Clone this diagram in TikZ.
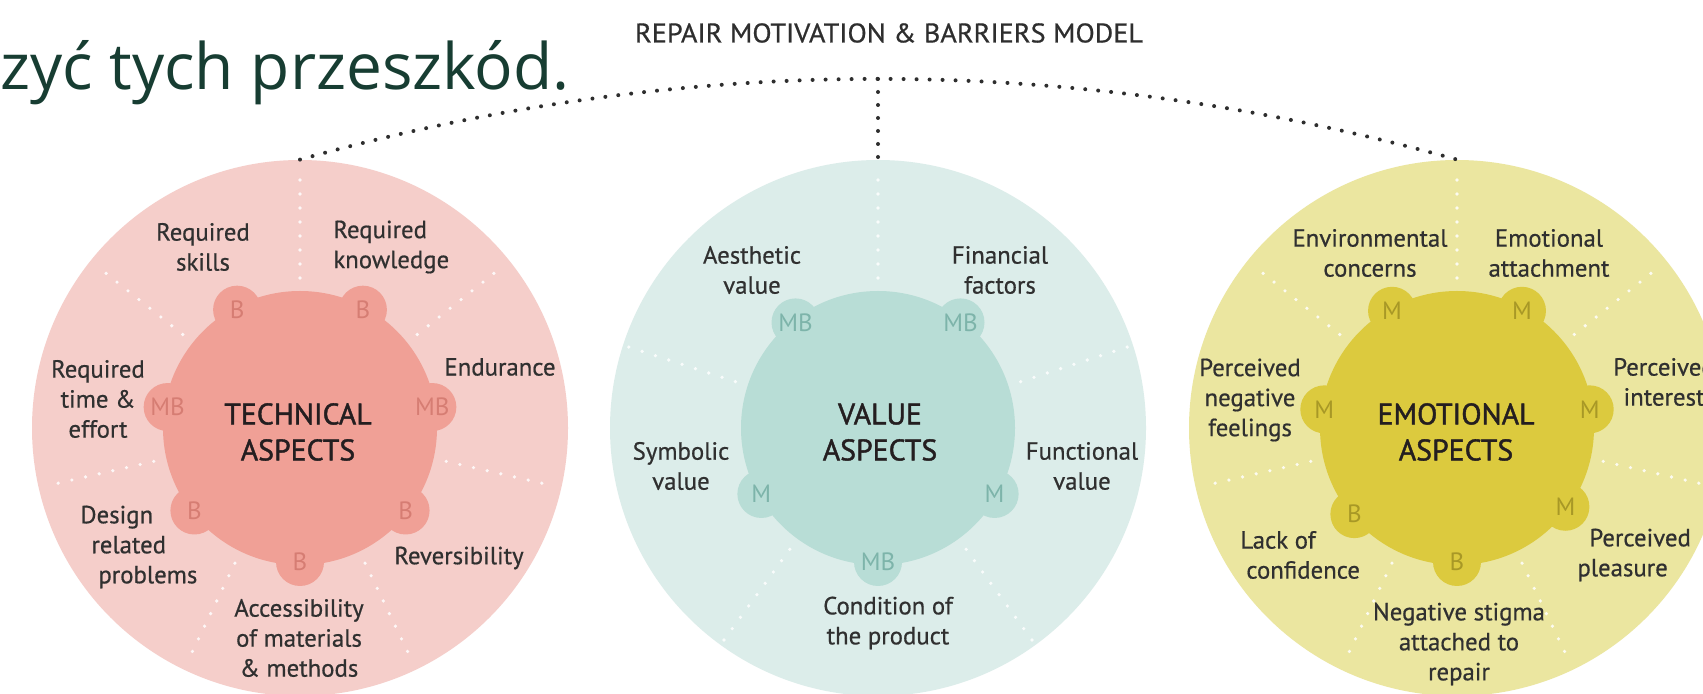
\documentclass[tikz,border=0pt]{standalone}
\usepackage{fontspec}
\setmainfont{PT Sans}
\newfontfamily\bigfont{Open Sans}
\newfontfamily\lblfont[FakeBold=0.6]{PT Sans}
\newfontfamily\semifont[FakeBold=1.4]{PT Sans}
\definecolor{techout}{HTML}{F5CECA}
\definecolor{techin}{HTML}{F0A096}
\definecolor{techbump}{HTML}{D67D73}
\definecolor{valout}{HTML}{DCEDEA}
\definecolor{valin}{HTML}{B8DDD6}
\definecolor{valbump}{HTML}{7DB4AA}
\definecolor{emoout}{HTML}{EBE6A0}
\definecolor{emoin}{HTML}{DCCA3E}
\definecolor{emobump}{HTML}{A89826}
\definecolor{lblgray}{HTML}{303030}
\definecolor{titlegray}{HTML}{241E20}
\definecolor{dotgray}{HTML}{2E2E2E}
\definecolor{biggreen}{HTML}{173D32}
\tikzset{
  outerc/.style={circle, minimum size=268pt, inner sep=0pt},
  innerc/.style={circle, minimum size=137pt, inner sep=0pt},
  bump/.style={circle, minimum size=24pt, inner sep=0pt, font=\fontsize{12.5}{12.5}\selectfont},
  lbl/.style={inner sep=0pt, align=center, text=lblgray, font=\lblfont\fontsize{12.4}{15}\selectfont},
  ctitle/.style={inner sep=0pt, align=center, text=titlegray, font=\semifont\fontsize{14.9}{18}\selectfont},
  divider/.style={draw=white, draw opacity=0.85, line width=1.8pt, line cap=round, dash pattern=on 0pt off 7pt},
  dotline/.style={draw=dotgray, line width=2pt, line cap=round, dash pattern=on 0pt off 6.5pt},
}
\begin{document}
\begin{tikzpicture}[x=0.5pt,y=-0.5pt]
\useasboundingbox (0,0) rectangle (1703,694);
\clip (0,0) rectangle (1703,694);
\fill[white] (0,0) rectangle (1703,694);

% ---------- outer circles ----------
\node[outerc, fill=techout] (tech) at (300,428) {};
\node[outerc, fill=valout] (val) at (878,428) {};
\node[outerc, fill=emoout] (emo) at (1457,428) {};

% ---------- dividers ----------
\foreach \cx in {300,1457}{
  \begin{scope}[shift={(\cx,428)}, y=0.5pt]
    \foreach \a in {90,141.43,192.86,244.29,295.71,347.14,38.57}
      \draw[divider] (\a:150) -- (\a:262);
  \end{scope}
}
\begin{scope}[shift={(878,428)}, y=0.5pt]
  \foreach \a in {90,162,234,306,18}
    \draw[divider] (\a:150) -- (\a:262);
\end{scope}

% ---------- inner circles ----------
\node[innerc, fill=techin] (techc) at (300,428) {};
\node[innerc, fill=valin] (valc) at (878,428) {};
\node[innerc, fill=emoin] (emoc) at (1457,428) {};

% ---------- bumps ----------
\begin{scope}[shift={(300,428)}, y=0.5pt]
  \foreach \a/\t [count=\i] in {62/B,118/B,171/MB,9/MB,-38/B,-90/B,218/B}
    \node[bump, fill=techin, text=techbump] (tb\i) at (\a:134) {\t};
\end{scope}
\begin{scope}[shift={(878,428)}, y=0.5pt]
  \foreach \a/\t [count=\i] in {52/MB,128/MB,209.5/M,330.5/M,-90/MB}
    \node[bump, fill=valin, text=valbump] (vb\i) at (\a:134) {\t};
\end{scope}
\begin{scope}[shift={(1457,428)}, y=0.5pt]
  \foreach \a/\t [count=\i] in {61/M,119/M,172/M,8/M,-36/M,-90/B,220/B}
    \node[bump, fill=emoin, text=emobump] (eb\i) at (\a:134) {\t};
\end{scope}

% ---------- centre titles ----------
\node[ctitle] (techt) at (298,432) {TECHNICAL\\ASPECTS};
\node[ctitle] (valt) at (880,432) {VALUE\\ASPECTS};
\node[ctitle] (emot) at (1456,432) {EMOTIONAL\\ASPECTS};

% ---------- technical labels ----------
\node[lbl] (t1) at (203,247) {Required\\skills};
\node[lbl, align=left, anchor=west] (t2) at (333,247) {Required\\knowledge};
\node[lbl] (t3) at (500,367) {Endurance};
\node[lbl] (t4) at (98,399) {Required\\time \&\\effort};
\node[lbl, align=left, anchor=west] (t5) at (80,547) {Design\\\hspace*{5.5pt}related\\\hspace*{9pt}problems};
\node[lbl] (t6) at (299,638) {Accessibility\\of materials\\\& methods};
\node[lbl] (t7) at (459,558) {Reversibility};

% ---------- value labels ----------
\node[lbl] (v1) at (752,270) {Aesthetic\\value};
\node[lbl] (v2) at (1000,270) {Financial\\factors};
\node[lbl] (v3) at (681,466) {Symbolic\\value};
\node[lbl] (v4) at (1082,466) {Functional\\value};
\node[lbl] (v5) at (888,623) {Condition of\\the product};

% ---------- emotional labels ----------
\node[lbl] (e1) at (1370,253) {Environmental\\concerns};
\node[lbl] (e2) at (1549,253) {Emotional\\attachment};
\node[lbl] (e3) at (1664,382) {Perceived\\interest};
\node[lbl] (e4) at (1250,400) {Perceived\\negative\\feelings};
\node[lbl, align=left, anchor=west] (e5) at (1240,555) {Lack of\\\hspace*{3pt}confidence};
\node[lbl] (e6) at (1459,644) {Negative stigma\\attached to\\repair};
\node[lbl, align=left, anchor=west] (e7) at (1577,555) {\hspace*{6pt}Perceived\\pleasure};

% ---------- headings ----------
\node[inner sep=0pt, text=dotgray] (title) at (889,33)
  {\resizebox{254pt}{9.6pt}{\lblfont REPAIR MOTIVATION \& BARRIERS MODEL}};
\node[inner sep=0pt, anchor=base west, text=biggreen, font=\bigfont\fontsize{32}{36}\selectfont]
  (big) at (0,90) {zyć tych przeszkód.};

% ---------- dotted bracket ----------
\coordinate (apex) at (878,79);
\draw[dotline] (tech.north) .. controls (685,52) and (1071,52) .. (emo.north);
\draw[dotline] (apex) -- (val.north);
\end{tikzpicture}
\end{document}
